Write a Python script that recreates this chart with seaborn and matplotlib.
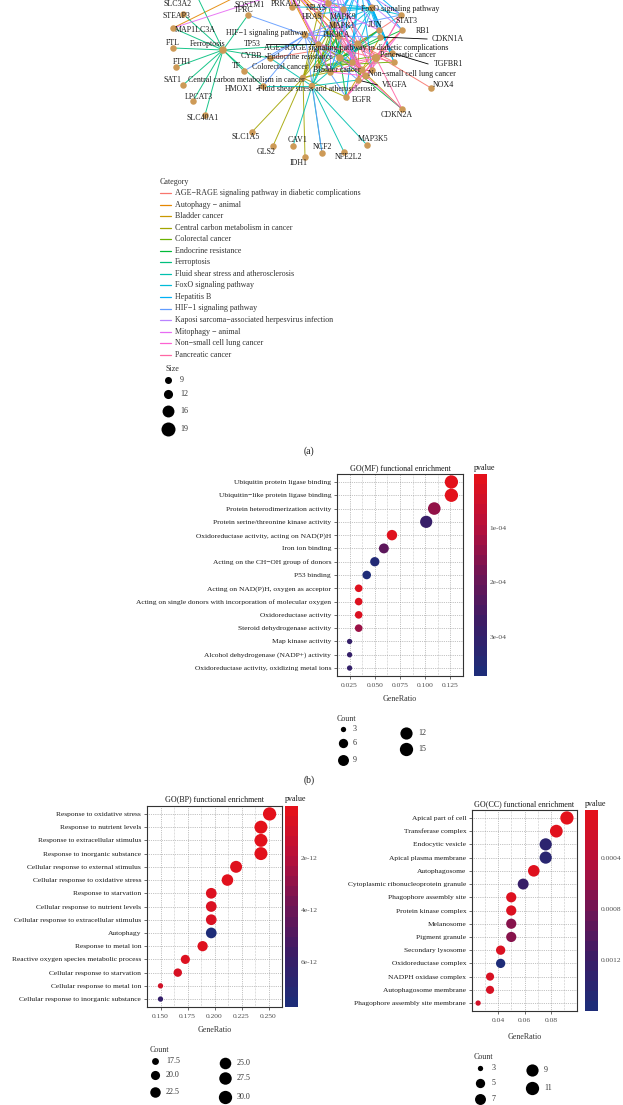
import numpy as np
import pandas as pd
import matplotlib
matplotlib.use("Agg")
import matplotlib.pyplot as plt
from matplotlib.colors import LinearSegmentedColormap, Normalize
from matplotlib.cm import ScalarMappable
import seaborn as sns

# ---------------- data ----------------
mf_terms = [
    "Ubiquitin protein ligase binding",
    "Ubiquitin\u2212like protein ligase binding",
    "Protein heterodimerization activity",
    "Protein serine/threonine kinase activity",
    "Oxidoreductase activity, acting on NAD(P)H",
    "Iron ion binding",
    "Acting on the CH\u2212OH group of donors",
    "P53 binding",
    "Acting on NAD(P)H, oxygen as acceptor",
    "Acting on single donors with incorporation of molecular oxygen",
    "Oxidoreductase activity",
    "Steroid dehydrogenase activity",
    "Map kinase activity",
    "Alcohol dehydrogenase (NADP+) activity",
    "Oxidoreductase activity, oxidizing metal ions",
]
mf_ratio = [0.126, 0.126, 0.109, 0.101, 0.067, 0.059, 0.050, 0.042, 0.034, 0.034, 0.034, 0.034, 0.025, 0.025, 0.025]
mf_count = [15, 15, 13, 12, 8, 7, 6, 5, 4, 4, 4, 4, 3, 3, 3]
mf_pvalue = [2e-6, 3e-6, 1.4e-4, 2.9e-4, 1.2e-5, 2.2e-4, 3.6e-4, 3.72e-4, 1.0e-5, 1.5e-5, 2.0e-5, 1.3e-4, 2.95e-4, 2.95e-4, 3.0e-4]

bp_terms = [
    "Response to oxidative stress",
    "Response to nutrient levels",
    "Response to extracellular stimulus",
    "Response to inorganic substance",
    "Cellular response to external stimulus",
    "Cellular response to oxidative stress",
    "Response to starvation",
    "Cellular response to nutrient levels",
    "Cellular response to extracellular stimulus",
    "Autophagy",
    "Response to metal ion",
    "Reactive oxygen species metabolic process",
    "Cellular response to starvation",
    "Cellular response to metal ion",
    "Cellular response to inorganic substance",
]
bp_ratio = [0.251, 0.243, 0.243, 0.243, 0.220, 0.212, 0.197, 0.197, 0.197, 0.197, 0.189, 0.173, 0.166, 0.150, 0.150]
bp_count = [30, 29, 29, 29, 26, 25, 23, 23, 23, 23, 22, 20, 19, 17, 17]
bp_pvalue = [1e-15, 3e-14, 5e-14, 8e-14, 2e-13, 1e-13, 3e-13, 4e-13, 4.5e-13, 7.74e-12, 2e-13, 3e-13, 5e-13, 8e-13, 6.2e-12]

cc_terms = [
    "Apical part of cell",
    "Transferase complex",
    "Endocytic vesicle",
    "Apical plasma membrane",
    "Autophagosome",
    "Cytoplasmic ribonucleoprotein granule",
    "Phagophore assembly site",
    "Protein kinase complex",
    "Melanosome",
    "Pigment granule",
    "Secondary lysosome",
    "Oxidoreductase complex",
    "NADPH oxidase complex",
    "Autophagosome membrane",
    "Phagophore assembly site membrane",
]
cc_ratio = [0.092, 0.084, 0.076, 0.076, 0.067, 0.059, 0.050, 0.050, 0.050, 0.050, 0.042, 0.042, 0.034, 0.034, 0.025]
cc_count = [11, 10, 9, 9, 8, 7, 6, 6, 6, 6, 5, 5, 4, 4, 3]
cc_pvalue = [2e-5, 4e-5, 1.4e-3, 1.45e-3, 6e-5, 1.25e-3, 8e-5, 9e-5, 6.7e-4, 6.7e-4, 1e-4, 1.6e-3, 1.2e-4, 1.3e-4, 1.8e-4]

categories = [
    "AGE\u2212RAGE signaling pathway in diabetic complications",
    "Autophagy \u2212 animal",
    "Bladder cancer",
    "Central carbon metabolism in cancer",
    "Colorectal cancer",
    "Endocrine resistance",
    "Ferroptosis",
    "Fluid shear stress and atherosclerosis",
    "FoxO signaling pathway",
    "Hepatitis B",
    "HIF\u22121 signaling pathway",
    "Kaposi sarcoma\u2212associated herpesvirus infection",
    "Mitophagy \u2212 animal",
    "Non\u2212small cell lung cancer",
    "Pancreatic cancer",
]
category_colors = ["#F8766D", "#E58700", "#C99800", "#A3A500", "#6BB100", "#00BA38", "#00BF7D",
                   "#00C0AF", "#00BCD8", "#00B0F6", "#619CFF", "#B983FF", "#E76BF3", "#FD61D1", "#FF67A4"]
# network layout (node and label positions, figure pixels); labels above the frame are not shown
category_x = [358, 280, 362, 303, 318, 340, 223, 312, 372, 360, 305, 330, 290, 366, 376]
category_y = [44, -25, 70, 78, 66, 58, 50, 86, 8, -20, 35, -30, -10, 76, 58]
category_label_x = [356, 280, 337, 246, 280, 300, 208, 317, 400, 360, 267, 330, 290, 412, 408]
category_label_y = [48, -40, 70, 80, 67, 57, 44, 89, 9, -40, 33, -40, -40, 74, 55]

genes = ["SLC3A2", "STEAP3", "MAP1LC3A", "FTL", "FTH1", "SAT1", "LPCAT3", "SLC40A1", "TFRC", "TP53",
         "CYBB", "TF", "HMOX1", "SLC1A5", "GLS2", "CAV1", "IDH1", "NCF2", "NFE2L2", "MAP3K5",
         "EGFR", "CDKN2A", "VEGFA", "NOX4", "TGFBR1", "CDKN1A", "RB1", "STAT3", "JUN", "PIK3CA",
         "MAPK1", "MAPK9", "HRAS", "NRAS", "PRKAA2", "SQSTM1", "KRAS", "MAPK3", "CDK4", "SMAD3"]
gene_x = [196, 183, 173, 173, 176, 183, 193, 205, 248, 318, 270, 244, 263, 252, 273, 293, 305, 322, 344, 367,
          346, 402, 358, 431, 392, 380, 402, 401, 379, 338, 333, 343, 318, 328, 292, 273, 330, 352, 372, 394]
gene_y = [-6, 14, 28, 48, 67, 85, 101, 115, 15, 44, 58, 71, 86, 132, 146, 146, 157, 153, 152, 145,
          97, 109, 80, 88, 53, 37, 30, 15, 30, 36, 24, 9, 14, 3, 7, -3, 72, 62, 70, 62]
gene_label_x = [178, 176, 195, 173, 182, 172, 199, 203, 244, 252, 251, 236, 239, 246, 266, 298, 299, 322, 349, 373,
                362, 397, 395, 443, 449, 448, 423, 406, 375, 337, 342, 343, 312, 316, 286, 250, 0, 0, 0, 0]
gene_label_y = [4, 16, 30, 43, 62, 80, 97, 118, 10, 44, 56, 66, 89, 137, 152, 140, 163, 147, 157, 139,
                100, 115, 85, 85, 64, 39, 31, 21, 25, 35, 26, 17, 17, 8, 4, 4, 0, 0, 0, 0]
hidden_labels = ["KRAS", "MAPK3", "CDK4", "SMAD3"]
segment_labels = ["TP53", "CYBB", "HMOX1", "EGFR", "VEGFA", "TGFBR1", "CDKN1A"]

memberships = {
    categories[0]: ["STAT3", "JUN", "PIK3CA", "MAPK1", "MAPK3", "MAPK9", "VEGFA", "TGFBR1", "CYBB", "NOX4", "CDK4", "SMAD3"],
    categories[1]: ["SQSTM1", "MAP1LC3A", "PIK3CA", "PRKAA2", "HRAS", "NRAS", "KRAS", "MAPK1", "MAPK3", "MAPK9", "TP53"],
    categories[2]: ["EGFR", "HRAS", "NRAS", "KRAS", "MAPK1", "MAPK3", "TP53", "RB1", "CDKN1A", "CDKN2A", "VEGFA", "CDK4"],
    categories[3]: ["SLC1A5", "GLS2", "IDH1", "TP53", "HRAS", "NRAS", "KRAS", "PIK3CA", "MAPK1", "MAPK3", "EGFR"],
    categories[4]: ["TP53", "KRAS", "PIK3CA", "MAPK1", "MAPK3", "JUN", "MAPK9", "TGFBR1", "SMAD3"],
    categories[5]: ["EGFR", "HRAS", "NRAS", "KRAS", "MAPK1", "MAPK3", "MAPK9", "JUN", "PIK3CA", "TP53", "RB1", "CDKN1A", "CDKN2A"],
    categories[6]: ["SLC3A2", "STEAP3", "MAP1LC3A", "FTL", "FTH1", "SAT1", "LPCAT3", "SLC40A1", "TFRC", "TP53", "CYBB", "TF", "HMOX1"],
    categories[7]: ["CAV1", "NCF2", "NFE2L2", "MAP3K5", "HMOX1", "CYBB", "TP53", "JUN", "PIK3CA", "VEGFA", "MAPK9"],
    categories[8]: ["STAT3", "HRAS", "NRAS", "KRAS", "MAPK1", "MAPK3", "MAPK9", "PIK3CA", "PRKAA2", "TGFBR1", "CDKN1A", "SMAD3"],
    categories[9]: ["STAT3", "JUN", "MAPK1", "MAPK3", "MAPK9", "PIK3CA", "TP53", "HRAS", "NRAS", "KRAS", "CDKN1A", "RB1", "TGFBR1", "SMAD3", "CDK4", "EGFR"],
    categories[10]: ["TFRC", "TF", "HMOX1", "EGFR", "VEGFA", "STAT3", "PIK3CA", "MAPK1", "MAPK3", "CDKN1A", "NCF2", "CYBB"],
    categories[11]: ["STAT3", "JUN", "MAPK1", "MAPK3", "MAPK9", "PIK3CA", "HRAS", "NRAS", "KRAS", "RB1", "CDK4", "TP53", "VEGFA"],
    categories[12]: ["SQSTM1", "MAP1LC3A", "HRAS", "NRAS", "KRAS", "JUN", "MAPK9", "PRKAA2", "TP53"],
    categories[13]: ["EGFR", "HRAS", "NRAS", "KRAS", "MAPK1", "MAPK3", "PIK3CA", "TP53", "RB1", "CDKN2A", "STAT3", "CDK4"],
    categories[14]: ["EGFR", "KRAS", "MAPK1", "MAPK3", "MAPK9", "PIK3CA", "TP53", "RB1", "CDKN2A", "STAT3", "VEGFA", "TGFBR1", "SMAD3", "CDK4"],
}
size_legend_values = [9, 12, 16, 19]
mf_count_legend = [3, 6, 9, 12, 15]
bp_count_legend = [17.5, 20.0, 22.5, 25.0, 27.5, 30.0]
cc_count_legend = [3, 5, 7, 9, 11]

# ---------------- style ----------------
sns.set_style("white")
plt.rcParams["font.family"] = ["Liberation Serif", "DejaVu Serif"]
W, H = 623, 1105
TXT = "#1a1a1a"
pval_cmap = LinearSegmentedColormap.from_list(
    "pval", ["#E3111B", "#B5103C", "#6E1555", "#3A1C66", "#1E2C78"])

fig = plt.figure(figsize=(W / 100, H / 100), dpi=100)
ax0 = fig.add_axes([0, 0, 1, 1])
ax0.set_xlim(0, W)
ax0.set_ylim(H, 0)
ax0.axis("off")


def px_area(d):
    return (d * 0.72) ** 2


def dot_diam(c, cmin, cmax):
    t = np.clip((c - cmin) / (cmax - cmin), 0, 1)
    s = 3 + np.sqrt(t) * 5
    return 0.56 * (s * 2.845 + 0.94)


def cat_diam(n):
    return 7 + (n - 9) / 10 * 7


# ---------------- (a) network ----------------
gpos = {g: (x, y) for g, x, y in zip(genes, gene_x, gene_y)}
for cat, col, cx, cy in zip(categories, category_colors, category_x, category_y):
    for g in memberships[cat]:
        gx, gy = gpos[g]
        ax0.plot([cx, gx], [cy, gy], color=col, lw=0.7, alpha=0.9, zorder=1)

nodes = pd.DataFrame({"x": gene_x, "y": gene_y})
sns.scatterplot(data=nodes, x="x", y="y", color="#CD9A57", s=px_area(6.5), linewidth=0,
                ax=ax0, zorder=3, legend=False)
cat_nodes = pd.DataFrame({"x": category_x, "y": category_y,
                          "n": [len(memberships[c]) for c in categories]})
cat_nodes["s"] = [px_area(cat_diam(n)) * 0.6 for n in cat_nodes["n"]]
ax0.scatter(cat_nodes["x"], cat_nodes["y"], s=cat_nodes["s"], color="#CD9A57", lw=0, zorder=3)
ax0.set_xlim(0, W)
ax0.set_ylim(H, 0)
ax0.axis("off")

for g, x, y, lx, ly in zip(genes, gene_x, gene_y, gene_label_x, gene_label_y):
    if g in hidden_labels:
        continue
    if g in segment_labels:
        half = len(g) * 3.3
        ex = lx - half - 1 if x < lx else lx + half + 1
        ax0.plot([x, ex], [y, ly], color="black", lw=0.6, zorder=2)
    ax0.text(lx, ly, g, fontsize=5.7, ha="center", va="center", color=TXT, zorder=4)
for c, lx, ly in zip(categories, category_label_x, category_label_y):
    if ly < 0:
        continue
    ax0.text(lx, ly, c, fontsize=5.7, ha="center", va="center", color=TXT, zorder=4)

# category legend
ax0.text(160, 182, "Category", fontsize=5.8, ha="left", va="center", color="#333333")
for i, (c, col) in enumerate(zip(categories, category_colors)):
    yy = 193 + i * 11.55
    ax0.plot([160, 171], [yy, yy], color=col, lw=0.9)
    ax0.text(175, yy, c, fontsize=5.8, ha="left", va="center", color="#333333")
ax0.text(165, 369, "Size", fontsize=5.8, ha="left", va="center", color="#333333")
for v, yy in zip(size_legend_values, [380, 394, 411, 429]):
    ax0.scatter(168, yy, s=px_area(cat_diam(v)), color="black", lw=0)
    ax0.text(180, yy, str(v), fontsize=5.8, ha="left", va="center", color="#333333")
ax0.text(309, 451, "(a)", fontsize=7, ha="center", va="center", color=TXT)
ax0.text(309, 780, "(b)", fontsize=7, ha="center", va="center", color=TXT)


# ---------------- dot plots ----------------
def dot_panel(terms, ratio, count, pvalue, box, cbox, xlim, xticks, xlabels,
              vmax, cticks, clabels, title, title_y, label_y):
    x0, y0, x1, y1 = box
    ax = fig.add_axes([x0 / W, 1 - y1 / H, (x1 - x0) / W, (y1 - y0) / H])
    ax.set_facecolor("white")
    df = pd.DataFrame({"term": terms, "GeneRatio": ratio, "Count": count, "pvalue": pvalue})
    cmin, cmax = min(count), max(count)
    sizes = {c: px_area(dot_diam(c, cmin, cmax)) for c in sorted(set(count))}
    norm = Normalize(vmin=min(pvalue), vmax=vmax)
    sns.scatterplot(data=df, x="GeneRatio", y="term", hue="pvalue", hue_norm=norm,
                    palette=pval_cmap, size="Count", sizes=sizes, linewidth=0,
                    legend=False, ax=ax, zorder=3)
    n = len(terms)
    ax.set_ylim(n - 0.4, -0.6)
    ax.set_xlim(*xlim)
    ax.set_xticks(xticks)
    ax.set_xticklabels(xlabels)
    step = xticks[1] - xticks[0]
    mids = [xticks[0] - step / 2] + [t + step / 2 for t in xticks]
    ax.set_xticks(mids, minor=True)
    ax.set_axisbelow(True)
    ax.grid(True, which="major", ls=":", lw=0.5, color="#8a8a8a")
    ax.grid(True, which="minor", axis="x", ls=":", lw=0.4, color="#9a9a9a")
    ax.set_xlabel("")
    ax.set_ylabel("")
    ax.tick_params(axis="both", which="major", length=2.2, width=0.5, color="#333333",
                   labelsize=5.4, bottom=True, left=True)
    ax.tick_params(axis="x", pad=3, labelcolor="#4D4D4D")
    ax.tick_params(axis="y", pad=2, labelcolor=TXT)
    ax.tick_params(which="minor", length=0)
    for sp in ax.spines.values():
        sp.set_color("#333333")
        sp.set_linewidth(0.8)
    # colorbar, small p at the top as in the reference
    cx0, cx1 = cbox
    cax = fig.add_axes([cx0 / W, 1 - y1 / H, (cx1 - cx0) / W, (y1 - y0) / H])
    sm = ScalarMappable(norm=norm, cmap=pval_cmap.resampled(20))
    cb = fig.colorbar(sm, cax=cax)
    cax.invert_yaxis()
    cb.outline.set_visible(False)
    cb.set_ticks(cticks)
    cb.set_ticklabels(clabels)
    cax.tick_params(axis="y", direction="in", length=2.5, width=0.6, color="white",
                    left=True, right=True, labelleft=False, labelright=True,
                    labelsize=5.4, labelcolor="#4D4D4D", pad=2)
    ax0.text((x0 + x1) / 2, title_y, title, fontsize=5.8, ha="center", va="center", color=TXT)
    ax0.text(cx0, title_y, "pvalue", fontsize=5.8, ha="left", va="center", color=TXT)
    ax0.text((x0 + x1) / 2, label_y, "GeneRatio", fontsize=5.8, ha="center", va="center", color="#333333")
    return cmin, cmax


def count_legend(values, cmin, cmax, title_xy, cols):
    ax0.text(title_xy[0], title_xy[1], "Count", fontsize=5.8, ha="left", va="center", color="#333333")
    k = 0
    for (dx, tx, ys) in cols:
        for yy in ys:
            v = values[k]
            ax0.scatter(dx, yy, s=px_area(dot_diam(v, cmin, cmax)), color="black", lw=0)
            ax0.text(tx, yy, f"{v:.1f}" if isinstance(v, float) else str(v),
                     fontsize=5.8, ha="left", va="center", color="#333333")
            k += 1


mn, mx = dot_panel(mf_terms, mf_ratio, mf_count, mf_pvalue, (337, 474, 463, 676), (474, 487),
                   (0.02064, 0.1302), [0.025, 0.05, 0.075, 0.1, 0.125],
                   ["0.025", "0.050", "0.075", "0.100", "0.125"],
                   3.72e-4, [1e-4, 2e-4, 3e-4], ["1e-04", "2e-04", "3e-04"],
                   "GO(MF) functional enrichment", 468, 699)
count_legend(mf_count_legend, mn, mx, (337, 719),
             [(343, 353, [729, 743, 760]), (406, 418, [733, 749])])

mn, mx = dot_panel(bp_terms, bp_ratio, bp_count, bp_pvalue, (147, 806, 282, 1007), (285, 298),
                   (0.14397, 0.2603), [0.15, 0.175, 0.2, 0.225, 0.25],
                   ["0.150", "0.175", "0.200", "0.225", "0.250"],
                   7.74e-12, [2e-12, 4e-12, 6e-12], ["2e-12", "4e-12", "6e-12"],
                   "GO(BP) functional enrichment", 799, 1030)
count_legend(bp_count_legend, mn, mx, (150, 1050),
             [(155, 166, [1061, 1075, 1092]), (225, 237, [1063, 1078, 1097])])

mn, mx = dot_panel(cc_terms, cc_ratio, cc_count, cc_pvalue, (472, 810, 577, 1011), (585, 598),
                   (0.0204, 0.0996), [0.04, 0.06, 0.08], ["0.04", "0.06", "0.08"],
                   1.6e-3, [4e-4, 8e-4, 1.2e-3], ["0.0004", "0.0008", "0.0012"],
                   "GO(CC) functional enrichment", 804, 1037)
count_legend(cc_count_legend, mn, mx, (474, 1057),
             [(480, 492, [1068, 1083, 1099]), (532, 544, [1070, 1088])])

fig.savefig("out.png", dpi=100)
